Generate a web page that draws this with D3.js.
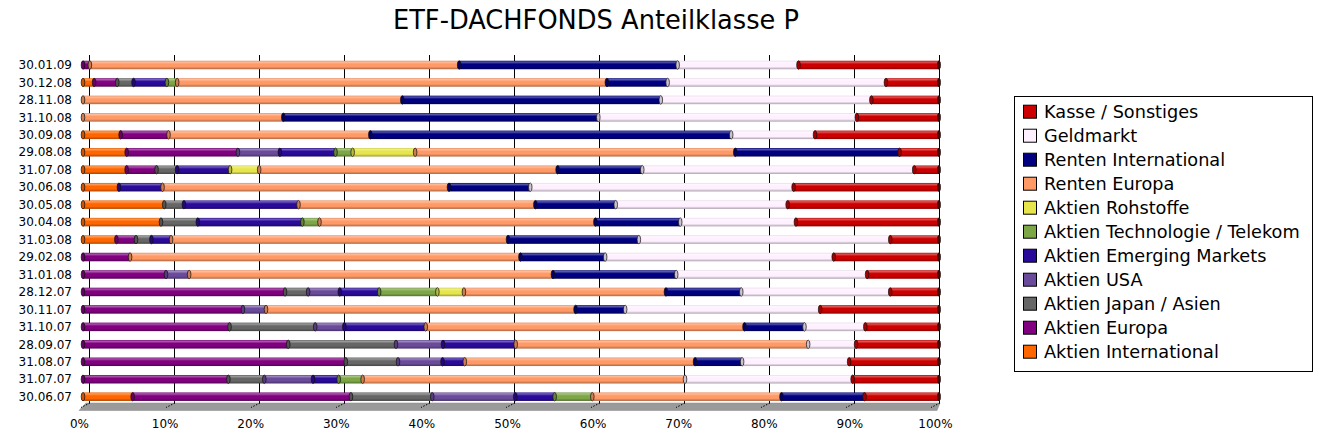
<!DOCTYPE html>
<html><head><meta charset="utf-8">
<script src="https://cdn.jsdelivr.net/npm/d3@7"></script>
<style>html,body{margin:0;padding:0;background:#fff;}svg{display:block;font-family:"DejaVu Sans",sans-serif;}</style>
</head><body>
<svg id="c" width="1330" height="438"></svg>
<script>
const dates = ["30.01.09","30.12.08","28.11.08","31.10.08","30.09.08","29.08.08","31.07.08","30.06.08","30.05.08","30.04.08","31.03.08","29.02.08","31.01.08","28.12.07","30.11.07","31.10.07","28.09.07","31.08.07","31.07.07","30.06.07"];
const seriesNames = ["Aktien International","Aktien Europa","Aktien Japan / Asien","Aktien USA","Aktien Emerging Markets","Aktien Technologie / Telekom","Aktien Rohstoffe","Renten Europa","Renten International","Geldmarkt","Kasse / Sonstiges"];
const aktienInternational = [0,1.3,0,0,4.4,5.1,5.1,4.2,9.5,9.1,3.9,0,0,0,0,0,0,0,0,5.8];
const aktienEuropa        = [0.8,2.7,0,0,5.6,13.0,3.5,0,0,0,2.3,5.5,9.7,23.6,18.7,17.1,24.0,30.7,17.0,25.5];
const aktienJapanAsien    = [0,1.9,0,0,0,0,2.4,0,2.3,4.3,1.8,0,0,2.7,0,10.0,12.6,6.1,4.2,9.5];
const aktienUSA           = [0,0,0,0,0,4.9,0,0,0,0,0,0,2.7,3.7,2.7,3.4,5.5,5.2,5.7,9.7];
const aktienEmerging      = [0,3.9,0,0,0,6.5,6.2,5.1,13.4,12.2,2.3,0,0,4.6,0,9.5,8.5,2.6,3.0,4.6];
const aktienTechnologie   = [0,1.2,0,0,0,2.0,0,0,0,2.0,0,0,0,6.8,0,0,0,0,2.8,4.4];
const aktienRohstoffe     = [0,0,0,0,0,7.3,3.4,0,0,0,0,0,0,3.1,0,0,0,0,0,0];
const rentenEuropa        = [43.1,50.2,37.3,23.4,23.6,37.4,34.9,33.5,27.7,32.2,39.4,45.6,42.5,23.6,36.2,37.2,34.2,26.9,37.7,22.1];
const rentenInternational = [25.5,7.1,30.2,36.8,42.2,19.2,9.9,9.5,9.4,9.9,15.3,9.9,14.4,8.8,5.8,7.0,0,5.5,0,9.7];
const geldmarkt           = [14.1,25.5,24.6,30.2,9.8,0,31.8,30.8,20.1,13.5,29.4,26.7,22.3,17.4,22.8,7.1,5.6,12.5,19.6,0];
const kasseSonstiges      = [16.4,6.2,7.9,9.6,14.5,4.6,2.9,17.0,17.7,16.7,5.7,12.3,8.4,5.7,13.9,8.6,9.7,10.5,10.1,8.7];
const tickValues = [0,0.1,0.2,0.3,0.4,0.5,0.6,0.7,0.8,0.9,1.0];
const title = "ETF-DACHFONDS Anteilklasse P";

const seriesValues = [aktienInternational,aktienEuropa,aktienJapanAsien,aktienUSA,aktienEmerging,aktienTechnologie,aktienRohstoffe,rentenEuropa,rentenInternational,geldmarkt,kasseSonstiges];
const colors = ["#FF6600","#800080","#666666","#6A4A9A","#2A0A99","#7DA647","#E6E64C","#FF9966","#000080","#FFF0FF","#CC0000"];

const table = dates.map((d,i)=>{const o={date:d}; seriesNames.forEach((s,j)=>o[s]=seriesValues[j][i]); return o;});
const stack = d3.stack().keys(seriesNames).offset(d3.stackOffsetExpand)(table);

const svg = d3.select("#c");
const defs = svg.append("defs");
colors.forEach((c,i)=>{
  const g = defs.append("linearGradient").attr("id","g"+i).attr("x1",0).attr("y1",0).attr("x2",0).attr("y2",1);
  const base = d3.color(c);
  const light = d3.interpolateRgb(c,"#fff")(0.35);
  const dark = base.darker(1.1).formatHex();
  g.append("stop").attr("offset","0%").attr("stop-color",base.darker(0.3).formatHex());
  g.append("stop").attr("offset","15%").attr("stop-color",light);
  g.append("stop").attr("offset","40%").attr("stop-color",c);
  g.append("stop").attr("offset","70%").attr("stop-color",c);
  g.append("stop").attr("offset","100%").attr("stop-color",dark);
});

const xBar = d3.scaleLinear().domain([0,1]).range([83,939]);
const xGrid = d3.scaleLinear().domain([0,1]).range([90,940]);
const xLab = d3.scaleLinear().domain([0,1]).range([79,935]);
const y = d3.scalePoint().domain(dates).range([65,396.7]);
const barH = 8.5;
const gx = d => Math.round(xGrid(d)) - 0.5;

// title
svg.append("text").attr("x",596).attr("y",29).attr("text-anchor","middle")
  .attr("font-size",25.7).attr("fill","#000").text(title);

// floor
svg.append("path").attr("d",`M${xGrid(0)-4},403 L${xGrid(1)},403 L${xGrid(1)-3},410.5 L${xLab(0)},410.5 Z`)
  .attr("fill","#9a9a9a").attr("stroke","#888").attr("stroke-width",0.5);

// gridlines
svg.append("g").selectAll("line").data(tickValues).join("line")
  .attr("x1",gx).attr("x2",gx).attr("y1",55).attr("y2",403)
  .attr("stroke","#000").attr("stroke-width",1);
// floor tick marks
svg.append("g").selectAll("line").data(tickValues).join("line")
  .attr("x1",d=>xGrid(d)).attr("x2",d=>xGrid(d)-9).attr("y1",403).attr("y2",407.5)
  .attr("stroke","#000").attr("stroke-width",1).attr("stroke-dasharray","1.5,1.5");

// bars
const segs = svg.append("g");
stack.forEach((layer,si)=>{
  layer.forEach((d,ri)=>{
    const x0 = xBar(d[0]), x1 = xBar(d[1]);
    if (x1 - x0 < 0.05) return;
    const cy = y(dates[ri]);
    segs.append("rect").attr("x",x0).attr("y",cy-barH/2).attr("width",x1-x0).attr("height",barH)
      .attr("fill",`url(#g${si})`);
  });
});
// caps at segment starts
const caps = svg.append("g");
stack.forEach((layer,si)=>{
  layer.forEach((d,ri)=>{
    const x0 = xBar(d[0]), x1 = xBar(d[1]);
    if (x1 - x0 < 0.05) return;
    const cy = y(dates[ri]);
    caps.append("ellipse").attr("cx",x0).attr("cy",cy).attr("rx",1.8).attr("ry",barH/2)
      .attr("fill",d3.color(colors[si]).darker(0.6).formatHex()).attr("stroke","#111").attr("stroke-width",0.7);
  });
});
// end caps
caps.selectAll(".endcap").data(dates).join("ellipse").attr("class","endcap")
  .attr("cx",xBar(1)).attr("cy",d=>y(d)).attr("rx",1.5).attr("ry",barH/2)
  .attr("fill","#550000").attr("stroke","#111").attr("stroke-width",0.7);

// y labels
svg.append("g").selectAll("text").data(dates).join("text")
  .attr("x",72).attr("y",d=>y(d)).attr("dy","0.35em").attr("text-anchor","end")
  .attr("font-size",12).attr("fill","#000").text(d=>d);

// x axis labels
const ax = svg.append("g").attr("transform","translate(0,416)")
  .call(d3.axisBottom(xLab).tickValues(tickValues).tickFormat(d3.format(".0%")).tickSize(0));
ax.select(".domain").remove();
ax.selectAll("text").attr("font-size",12).attr("font-family","DejaVu Sans").attr("fill","#000");

// legend
const lg = svg.append("g");
lg.append("rect").attr("x",1014.5).attr("y",96.5).attr("width",298).attr("height",275)
  .attr("fill","#fff").attr("stroke","#000").attr("stroke-width",1);
const legendOrder = seriesNames.map((s,i)=>i).reverse();
const li = lg.selectAll("g.it").data(legendOrder).join("g").attr("class","it")
  .attr("transform",(d,k)=>`translate(0,${111.7+k*24})`);
li.append("rect").attr("x",1023.5).attr("y",-6.5).attr("width",13).attr("height",13)
  .attr("fill",d=>colors[d]).attr("stroke","#000").attr("stroke-width",1);
li.append("text").attr("x",1044).attr("y",0).attr("dy","0.36em").attr("font-size",17.7)
  .attr("fill","#000").text(d=>seriesNames[d]);
</script>
</body></html>
